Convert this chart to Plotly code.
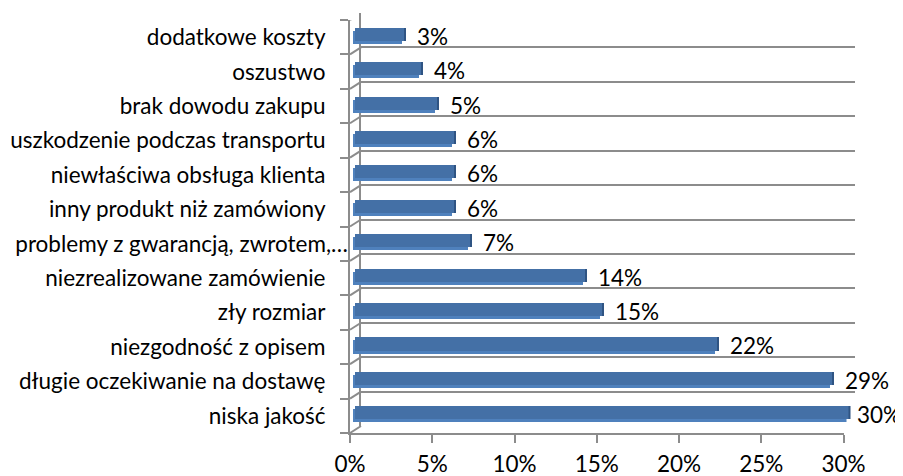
import plotly.graph_objects as go

# ---- data ----
categories = [
    "niska jakość",
    "długie oczekiwanie na dostawę",
    "niezgodność z opisem",
    "zły rozmiar",
    "niezrealizowane zamówienie",
    "problemy z gwarancją, zwrotem,…",
    "inny produkt niż zamówiony",
    "niewłaściwa obsługa klienta",
    "uszkodzenie podczas transportu",
    "brak dowodu zakupu",
    "oszustwo",
    "dodatkowe koszty",
]
values = [30, 29, 22, 15, 14, 7, 6, 6, 6, 5, 4, 3]
x_ticks = [0, 5, 10, 15, 20, 25, 30]

W, H = 903, 476
OFF = 8  # page body margin of the browser
FONT = "Lato"
FS = 22.5
GRID = "#8c8c8c"
FRONT = "#4f81bd"
TOP = "#4470a6"
SIDE = "#2f5483"

n = len(categories)
pos = list(range(n))
bounds = [i - 0.5 for i in range(n + 1)]
xr = [x_ticks[0], x_ticks[-1]]
yr = [-0.5, n - 0.5]

# Excel keeps truncated labels closer to the axis
full_pos = [p for p, c in zip(pos, categories) if not c.endswith("…")]
full_txt = [c for c in categories if not c.endswith("…")]
cut_pos = [p for p, c in zip(pos, categories) if c.endswith("…")]
cut_txt = [c for c in categories if c.endswith("…")]


def dx(a, b):
    return [(a - OFF) / W, (b - OFF) / W]


def dy(top, bottom):
    return [(H - (bottom - OFF)) / H, (H - (top - OFF)) / H]


# geometry of the pseudo-3D chart (window pixels)
FX0, FX1, FY0, FY1 = 350, 843.5, 20, 433  # front plane
DEPTH_X, DEPTH_Y = 11, 7  # back wall offset
BAR_DX = 3  # front face of bars
SIDE_X, SIDE_Y = 4, 3  # bar depth
BAR_W = 0.38

fig = go.Figure()

# back wall (grid) - subplot 1
fig.add_trace(go.Scatter(x=[None], y=[None], xaxis="x", yaxis="y", showlegend=False, hoverinfo="skip"))
# side faces - subplot 2
fig.add_trace(go.Bar(
    x=values, y=pos, orientation="h", width=BAR_W, xaxis="x2", yaxis="y2",
    marker=dict(color=SIDE, line=dict(width=0)), showlegend=False, hoverinfo="skip",
))
# top faces - subplot 5
fig.add_trace(go.Bar(
    x=values, y=pos, orientation="h", width=BAR_W, xaxis="x5", yaxis="y5",
    marker=dict(color=TOP, line=dict(width=0)), showlegend=False, hoverinfo="skip",
))
# front axes - subplot 3
fig.add_trace(go.Scatter(x=[None], y=[None], xaxis="x3", yaxis="y3", showlegend=False, hoverinfo="skip"))
# truncated labels axis (overlay on front axes)
fig.add_trace(go.Scatter(x=[None], y=[None], xaxis="x3", yaxis="y6", showlegend=False, hoverinfo="skip"))
# front faces - subplot 4
fig.add_trace(go.Bar(
    x=values, y=pos, orientation="h", width=BAR_W, xaxis="x4", yaxis="y4",
    marker=dict(color=FRONT, line=dict(width=0)), showlegend=False,
))

hidden_x = dict(range=xr, showgrid=False, zeroline=False, showticklabels=False, showline=False, ticks="", fixedrange=True)
hidden_y = dict(range=yr, showgrid=False, zeroline=False, showticklabels=False, showline=False, ticks="", fixedrange=True)

fig.update_layout(
    width=W, height=H,
    margin=dict(l=0, r=0, t=0, b=0, autoexpand=False),
    paper_bgcolor="white", plot_bgcolor="rgba(0,0,0,0)",
    font=dict(family=FONT, size=FS, color="#000000"),
    bargap=0,
    # back wall
    xaxis=dict(hidden_x, domain=dx(FX0 + DEPTH_X, FX1 + DEPTH_X), anchor="y"),
    yaxis=dict(
        range=[yr[0] - 0.001, yr[1] + 0.001], domain=dy(FY0 - DEPTH_Y, FY1 - DEPTH_Y), anchor="x",
        tickmode="array", tickvals=bounds, showticklabels=False, ticks="",
        showgrid=True, gridcolor=GRID, gridwidth=2, zeroline=False,
        showline=True, linecolor=GRID, linewidth=2, fixedrange=True,
    ),
    # side faces
    xaxis2=dict(hidden_x, domain=dx(FX0 + BAR_DX + SIDE_X, FX1 + BAR_DX + SIDE_X), anchor="y2"),
    yaxis2=dict(hidden_y, domain=dy(FY0 - SIDE_Y, FY1 - SIDE_Y), anchor="x2"),
    # top faces
    xaxis5=dict(hidden_x, domain=dx(FX0 + BAR_DX + SIDE_X / 2, FX1 + BAR_DX + SIDE_X / 2), anchor="y5"),
    yaxis5=dict(hidden_y, domain=dy(FY0 - SIDE_Y, FY1 - SIDE_Y), anchor="x5"),
    # front axes
    xaxis3=dict(
        range=xr, domain=dx(FX0, FX1), anchor="y3",
        tickmode="array", tickvals=x_ticks, ticktext=[f"{t}%" for t in x_ticks],
        ticks="outside", ticklen=8, tickwidth=2, tickcolor=GRID,
        showline=True, linecolor=GRID, linewidth=2, showgrid=False, zeroline=False,
        ticklabelstandoff=2, fixedrange=True,
    ),
    yaxis3=dict(
        range=yr, domain=dy(FY0, FY1), anchor="x3",
        tickmode="array", tickvals=full_pos, ticktext=full_txt, ticks="",
        minor=dict(tickmode="array", tickvals=bounds, ticks="outside", ticklen=8, tickwidth=2, tickcolor=GRID, showgrid=False),
        showline=True, linecolor=GRID, linewidth=2, showgrid=False, zeroline=False,
        ticklabelstandoff=18, fixedrange=True,
    ),
    # truncated category labels
    yaxis6=dict(
        range=yr, overlaying="y3", anchor="x3", side="left",
        tickmode="array", tickvals=cut_pos, ticktext=cut_txt, ticks="",
        showline=False, showgrid=False, zeroline=False, ticklabelstandoff=1, fixedrange=True,
    ),
    # front faces
    xaxis4=dict(hidden_x, domain=dx(FX0 + BAR_DX, FX1 + BAR_DX), anchor="y4"),
    yaxis4=dict(hidden_y, domain=dy(FY0, FY1), anchor="x4"),
)

# left wall diagonals (front boundary -> back boundary)
for b in bounds:
    fig.add_shape(
        type="line", xref="paper", yref="y3", ysizemode="pixel", yanchor=b,
        x0=(FX0 - OFF) / W, x1=(FX0 + DEPTH_X - OFF) / W, y0=0, y1=DEPTH_Y,
        line=dict(color=GRID, width=2), layer="below",
    )

# data labels
vmax = max(values)
for v, p in zip(values, pos):
    fig.add_annotation(
        x=v, y=p, xref="x4", yref="y4", text=f"{v}%", showarrow=False,
        xanchor="left", yanchor="middle", xshift=13 if v < vmax else 8, yshift=1,
        font=dict(family=FONT, size=FS, color="#000000"),
    )

fig.write_html("out.html")
